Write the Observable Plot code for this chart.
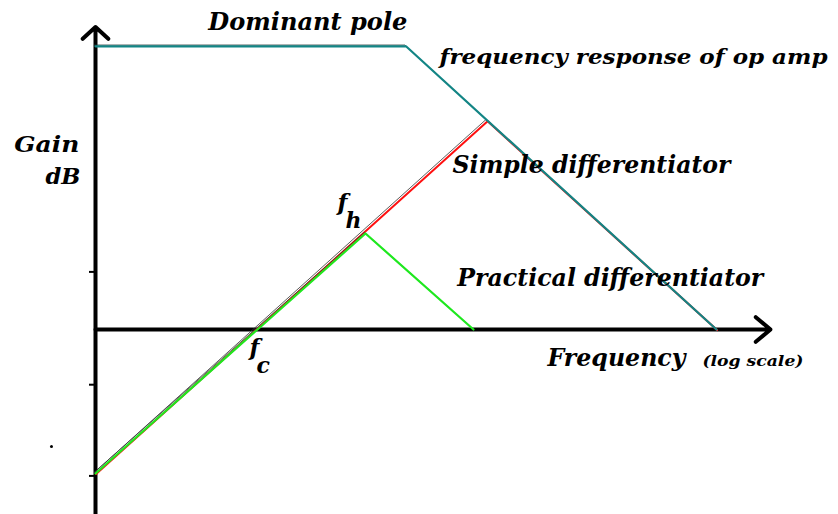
<!DOCTYPE html>
<html><head><meta charset="utf-8">
<script src="https://cdn.jsdelivr.net/npm/d3@7"></script>
<script src="https://cdn.jsdelivr.net/npm/@observablehq/plot@0.6"></script>
<style>html,body{margin:0;padding:0;background:#fff;overflow:hidden}</style>
</head><body><div id="chart"></div>
<script>
// x: frequency in decades (log scale, arbitrary origin); y: gain in dB
const opAmpF = [0, 5.75, 11.5];
const opAmpGain = [118, 118, 0];
const simpleF = [0, 7.25, 11.5];
const simpleGain = [-60, 87, 0];
const practicalF = [0, 5, 7];
const practicalGain = [-60, 40, 0];
const yTickValues = [24, -23, -61];
const axisXEnd = [12.5];
const axisYTop = [126];
const axisYBottom = [-77.08];
const strayDotF = [-0.815];
const strayDotGain = [-48.75];

// annotation texts and their anchors (data units)
const mainLabels = ["Dominant pole", "Simple differentiator", "Practical differentiator", "Frequency"];
const mainLabelF = [2.09, 6.61, 6.70, 8.37];
const mainLabelGain = [124.6, 65, 18.3, -15];
const curveLabel = ["frequency response of op amp"];
const curveLabelF = [6.37];
const curveLabelGain = [110.8];
const axisLabels = ["Gain", "dB"];
const axisLabelF = [-0.30, -0.28];
const axisLabelGain = [73.75, 60.8];
const scaleNote = ["(log scale)"];
const scaleNoteF = [11.24];
const scaleNoteGain = [-15];
const freqMain = ["f", "f"];
const freqMainF = [4.48, 2.85];
const freqMainGain = [49.6, -10.6];
const freqSub = ["h", "c"];
const freqSubF = [4.63, 2.98];
const freqSubGain = [42.1, -18.3];

const series = (fs, gs) => fs.map((f, i) => ({f, g: gs[i]}));
const labels = (ts, fs, gs) => ts.map((t, i) => ({t, f: fs[i], g: gs[i]}));

// layout widths for the stretched serif labels
const labelWidths = {"Dominant pole": 199, "frequency response of op amp": 388, "Simple differentiator": 278,
  "Practical differentiator": 306, "Frequency": 138, "(log scale)": 101, "Gain": 65, "dB": 35};

const font = {fontFamily: "DejaVu Serif", fontWeight: "bold", fontStyle: "italic", fill: "black"};

const opAmp = series(opAmpF, opAmpGain);
const simple = series(simpleF, simpleGain);
const practical = series(practicalF, practicalGain);

const plot = Plot.plot({
  width: 838, height: 514,
  marginLeft: 95, marginRight: 0, marginTop: 0, marginBottom: 0,
  x: {type: "linear", domain: [0, 743 / 54], axis: null},
  y: {type: "linear", domain: [-77.083, 137.083], axis: null},
  style: {background: "white", overflow: "visible"},
  marks: [
    Plot.axisY({ticks: yTickValues, tickSize: 6, tickFormat: () => "", strokeWidth: 2, label: null, anchor: "left"}),
    Plot.arrow(axisYTop, {x1: 0, y1: axisYBottom[0], x2: 0, y2: d => d, stroke: "black", strokeWidth: 4, headLength: 6.5, headAngle: 95}),
    Plot.arrow(axisXEnd, {x1: 0, y1: 0, x2: d => d, y2: 0, stroke: "black", strokeWidth: 4, headLength: 7.2, headAngle: 80}),
    Plot.dot(strayDotF.map((f, i) => ({f, g: strayDotGain[i]})), {x: "f", y: "g", r: 1.5, fill: "black", stroke: null}),
    // simple differentiator (red)
    Plot.line(simple, {x: "f", y: "g", stroke: "#333", strokeWidth: 0.8, dx: -1.1, dy: -1.1}),
    Plot.line(simple, {x: "f", y: "g", stroke: "#ff1010", strokeWidth: 2, dx: 0.6, dy: 0.6}),
    // op amp response (teal)
    Plot.line(opAmp, {x: "f", y: "g", stroke: "#223333", strokeWidth: 0.9, dx: -1.2, dy: -1.2}),
    Plot.line(opAmp, {x: "f", y: "g", stroke: "#138585", strokeWidth: 2.2}),
    // practical differentiator (green)
    Plot.line(practical, {x: "f", y: "g", stroke: "#333", strokeWidth: 0.8, dx: -1.2, dy: -1.2}),
    Plot.line(practical, {x: "f", y: "g", stroke: "#1ee81e", strokeWidth: 2.2}),
    Plot.text(labels(mainLabels, mainLabelF, mainLabelGain), {x: "f", y: "g", text: "t", textAnchor: "start", lineAnchor: "bottom", fontSize: 24, ...font}),
    Plot.text(labels(curveLabel, curveLabelF, curveLabelGain), {x: "f", y: "g", text: "t", textAnchor: "start", lineAnchor: "bottom", fontSize: 21, ...font}),
    Plot.text(labels(axisLabels, axisLabelF, axisLabelGain), {x: "f", y: "g", text: "t", textAnchor: "end", lineAnchor: "bottom", fontSize: 23, ...font}),
    Plot.text(labels(scaleNote, scaleNoteF, scaleNoteGain), {x: "f", y: "g", text: "t", textAnchor: "start", lineAnchor: "bottom", fontSize: 15, ...font}),
    Plot.text(labels(freqMain, freqMainF, freqMainGain), {x: "f", y: "g", text: "t", textAnchor: "start", lineAnchor: "bottom", fontSize: 23, ...font}),
    Plot.text(labels(freqSub, freqSubF, freqSubGain), {x: "f", y: "g", text: "t", textAnchor: "start", lineAnchor: "bottom", fontSize: 22, ...font})
  ]
});

d3.select(plot).selectAll("text").each(function() {
  const w = labelWidths[this.textContent];
  if (w) {
    this.setAttribute("textLength", w);
    this.setAttribute("lengthAdjust", "spacingAndGlyphs");
  }
});

document.getElementById("chart").appendChild(plot);
</script>
</body></html>
